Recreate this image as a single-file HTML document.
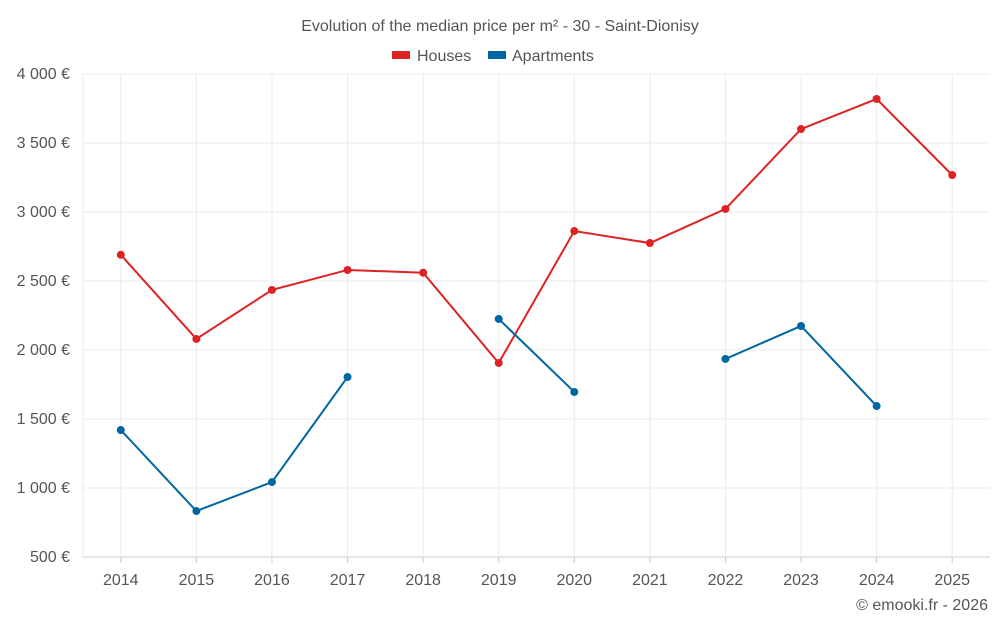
<!DOCTYPE html>
<html><head><meta charset="utf-8"><style>
body{margin:0;background:#fff;font-family:"Liberation Sans",sans-serif;}
svg text{font-family:"Liberation Sans",sans-serif;fill:#555;}
</style></head><body>
<svg id="c" width="1000" height="625">
<text x="500" y="31" text-anchor="middle" font-size="16">Evolution of the median price per m² - 30 - Saint-Dionisy</text>
<g><rect x="392" y="51" width="18" height="8" fill="#dd2222"/><text x="417" y="61" font-size="16">Houses</text></g>
<g><rect x="488" y="51" width="18" height="8" fill="#0066a0"/><text x="512" y="61" font-size="16">Apartments</text></g>
<text x="988" y="610" text-anchor="end" font-size="16">© emooki.fr - 2026</text>
<g id="grid"></g><g id="axes"></g><g id="series"></g>
</svg>
<script>
const years=["2014","2015","2016","2017","2018","2019","2020","2021","2022","2023","2024","2025"];
const houses=[2690,2080,2435,2580,2560,1906,2862,2775,3022,3601,3819,3268];
const apartments=[1420,833,1043,1804,null,2225,1696,null,1935,2174,1594,null];
const yTicks=[500,1000,1500,2000,2500,3000,3500,4000];
const yLabels=["500 €","1 000 €","1 500 €","2 000 €","2 500 €","3 000 €","3 500 €","4 000 €"];
const L=83,R=990,T=74,B=557,yMin=500,yMax=4000;
const bw=(R-L)/years.length;
const x=i=>L+bw*(i+0.5);
const y=v=>B-(v-yMin)/(yMax-yMin)*(B-T);
const NS="http://www.w3.org/2000/svg";
function mk(t,a,p){const e=document.createElementNS(NS,t);for(const k in a)e.setAttribute(k,a[k]);p.appendChild(e);return e;}
const g=document.getElementById('grid'),ax=document.getElementById('axes'),s=document.getElementById('series');
yTicks.forEach((v,i)=>{
 const l=mk('line',{x1:L,x2:R,y1:y(v),y2:y(v),stroke:i==0?'#ccc':'#ebebeb'},g);
 
 
 const t=mk('text',{x:L-13,y:y(v)+5,'text-anchor':'end','font-size':16},ax);t.textContent=yLabels[i];
 
 
});
const lv=mk('line',{x1:L,x2:L,y1:T,y2:B,stroke:'#ebebeb'},g);


years.forEach((yr,i)=>{
 const l=mk('line',{x1:x(i),x2:x(i),y1:T,y2:B,stroke:'#ebebeb'},g);
 
 
 const tk=mk('line',{x1:x(i),x2:x(i),y1:B,y2:B+6,stroke:'#ccc'},ax);
 
 
 const t=mk('text',{x:x(i),y:B+28,'text-anchor':'middle','font-size':16},ax);t.textContent=yr;
 
 
});
function draw(data,color,name){
 let d='',pen=false;
 data.forEach((v,i)=>{if(v==null){pen=false;return;}d+=(pen?'L':'M')+x(i)+' '+y(v)+' ';pen=true;});
 const p=mk('path',{d:d,fill:'none',stroke:color,'stroke-width':2},s);
 
 
 data.forEach((v,i)=>{if(v==null)return;
  const c=mk('circle',{cx:x(i),cy:y(v),r:4,fill:color},s);
  
  
 });
}
draw(houses,'#dd2222','houses');
draw(apartments,'#0066a0','apartments');
</script>
</body></html>
